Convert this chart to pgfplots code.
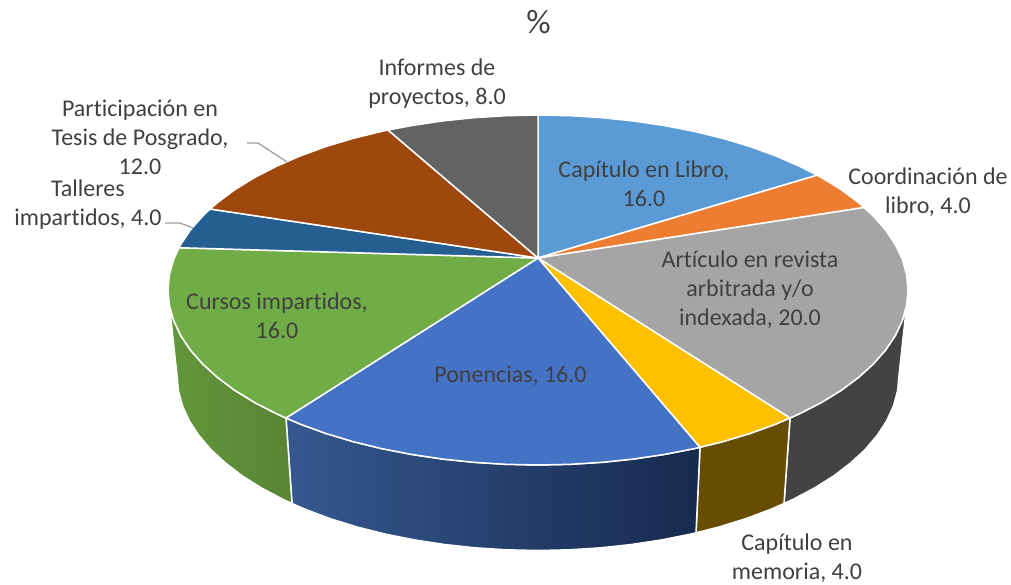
\documentclass[border=0pt]{standalone}
\usepackage{pgfplots}
\pgfplotsset{compat=1.18}
\usepackage{fontspec}
\setmainfont[Ligatures={NoCommon}]{Carlito}
\definecolor{capL}{HTML}{5B9BD5}
\definecolor{coord}{HTML}{ED7D31}
\definecolor{art}{HTML}{A5A5A5}
\definecolor{mem}{HTML}{FFC000}
\definecolor{pon}{HTML}{4472C4}
\definecolor{cur}{HTML}{70AD47}
\definecolor{tal}{HTML}{255E91}
\definecolor{par}{HTML}{9E480E}
\definecolor{inf}{HTML}{636363}
\definecolor{artS}{HTML}{434343}
\definecolor{memS}{HTML}{664D00}
\definecolor{ponL}{HTML}{35588F}
\definecolor{ponR}{HTML}{172A4E}
\definecolor{curL}{HTML}{62973C}
\definecolor{curR}{HTML}{598434}
\definecolor{txt}{HTML}{404040}
\definecolor{lead}{HTML}{A0A0A0}
\begin{document}
\begin{tikzpicture}
\begin{axis}[
  width=1011pt,height=584pt,scale only axis,
  xmin=0,xmax=1011,ymin=0,ymax=584,y dir=reverse,
  hide axis,clip=false,
  every axis plot/.append style={mark=none,line join=round},
]
% ---- sides
\addplot[draw=white,line width=1.5pt,fill=artS] coordinates {
(906.6,305.3)(902.4,320.4)(895.4,335.3)(885.7,349.9)(873.3,364)(858.4,377.5)(841.1,390.4)(821.4,402.5)(799.6,413.7)(790,418)
(784,503.5)(793.3,499.2)(814.5,488)(833.7,475.9)(850.6,463)(865.2,449.5)(877.2,435.4)(886.7,420.8)(893.5,405.9)(897.6,390.8)(899,375.5)} -- cycle;
\addplot[draw=white,line width=1.5pt,fill=memS] coordinates {
(790,418)(775.8,424.1)(750.2,433.4)(723,441.6)(700,447.3)
(696,532.8)(718.5,527.1)(745.1,518.9)(770,509.6)(784,503.5)} -- cycle;
\addplot[draw=white,line width=1.5pt,left color=ponL,right color=ponR] coordinates {
(700,447.3)(694.4,448.6)(664.5,454.4)(633.8,459)(602.2,462.3)(570.3,464.3)(538,465)(505.7,464.3)(473.8,462.3)(442.2,459)(411.5,454.4)(381.6,448.6)(353,441.6)(325.8,433.4)(300.2,424.1)(286,418)
(292,503.5)(306,509.6)(330.9,518.9)(357.5,527.1)(385.4,534.1)(414.5,539.9)(444.6,544.5)(475.3,547.8)(506.5,549.8)(538,550.5)(569.5,549.8)(600.7,547.8)(631.4,544.5)(661.5,539.9)(690.6,534.1)(696,532.8)} -- cycle;
\addplot[draw=white,line width=1.5pt,left color=curL,right color=curR] coordinates {
(286,418)(276.4,413.7)(254.6,402.5)(234.9,390.4)(217.6,377.5)(202.7,364)(190.3,349.9)(180.6,335.3)(173.6,320.4)(169.4,305.3)
(177,375.5)(178.4,390.8)(182.5,405.9)(189.3,420.8)(198.8,435.4)(210.8,449.5)(225.4,463)(242.3,475.9)(261.5,488)(282.7,499.2)(292,503.5)} -- cycle;
% ---- top wedges
\addplot[draw=white,line width=1.5pt,fill=capL] coordinates {
(538,258)(538,115)(570.3,115.7)(602.2,117.7)(633.8,121)(664.5,125.6)(694.4,131.4)(723,138.4)(750.2,146.6)(775.8,155.9)(799.6,166.3)(817.2,175.2)} -- cycle;
\addplot[draw=white,line width=1.5pt,fill=coord] coordinates {
(538,258)(817.2,175.2)(821.4,177.5)(841.1,189.6)(858.4,202.5)(864,207.5)} -- cycle;
\addplot[draw=white,line width=1.5pt,fill=art] coordinates {
(538,258)(864,207.5)(873.3,216)(885.7,230.1)(895.4,244.7)(902.4,259.6)(906.6,274.7)(908,290)(906.6,305.3)(902.4,320.4)(895.4,335.3)(885.7,349.9)(873.3,364)(858.4,377.5)(841.1,390.4)(821.4,402.5)(799.6,413.7)(790,418)} -- cycle;
\addplot[draw=white,line width=1.5pt,fill=mem] coordinates {
(538,258)(790,418)(775.8,424.1)(750.2,433.4)(723,441.6)(700,447.3)} -- cycle;
\addplot[draw=white,line width=1.5pt,fill=pon] coordinates {
(538,258)(700,447.3)(694.4,448.6)(664.5,454.4)(633.8,459)(602.2,462.3)(570.3,464.3)(538,465)(505.7,464.3)(473.8,462.3)(442.2,459)(411.5,454.4)(381.6,448.6)(353,441.6)(325.8,433.4)(300.2,424.1)(286,418)} -- cycle;
\addplot[draw=white,line width=1.5pt,fill=cur] coordinates {
(538,258)(286,418)(276.4,413.7)(254.6,402.5)(234.9,390.4)(217.6,377.5)(202.7,364)(190.3,349.9)(180.6,335.3)(173.6,320.4)(169.4,305.3)(168,290)(169.4,274.7)(173.6,259.6)(179,247.7)} -- cycle;
\addplot[draw=white,line width=1.5pt,fill=tal] coordinates {
(538,258)(179,247.7)(180.6,244.7)(190.3,230.1)(202.7,216)(210,209)} -- cycle;
\addplot[draw=white,line width=1.5pt,fill=par] coordinates {
(538,258)(210,209)(217.6,202.5)(234.9,189.6)(254.6,177.5)(276.4,166.3)(300.2,155.9)(325.8,146.6)(353,138.4)(381.6,131.4)(388,130)} -- cycle;
\addplot[draw=white,line width=1.5pt,fill=inf] coordinates {
(538,258)(388,130)(411.5,125.6)(442.2,121)(473.8,117.7)(505.7,115.7)(538,115)} -- cycle;
% ---- leader lines
\addplot[draw=lead,line width=1.3pt] coordinates {(165,223)(180,223)(193,228)};
\addplot[draw=lead,line width=1.3pt] coordinates {(247,143)(258,143)(287,162)};
% ---- labels
\tikzset{lb/.style={text=txt,align=center,anchor=center,inner sep=0pt,font=\fontsize{24}{29}\selectfont}}
\node[lb,font=\fontsize{34}{36}\selectfont] at (axis cs:538.5,22) {\%};
\node[lb] at (axis cs:437,84) {Informes de\\proyectos, 8.0};
\node[lb] at (axis cs:644,184) {Capítulo en Libro,\\16.0};
\node[lb] at (axis cs:928,192) {Coordinación de\\libro, 4.0};
\node[lb] at (axis cs:750,290) {Artículo en revista\\arbitrada y/o\\indexada, 20.0};
\node[lb] at (axis cs:510.5,376) {Ponencias, 16.0};
\node[lb] at (axis cs:277,316) {Cursos impartidos,\\16.0};
\node[lb] at (axis cs:140,137) {Participación en\\Tesis de Posgrado,\\12.0};
\node[lb] at (axis cs:88,205) {Talleres\\impartidos, 4.0};
\node[lb] at (axis cs:797,558) {Capítulo en\\memoria, 4.0};
\end{axis}
\pgfresetboundingbox
\path[use as bounding box] (0,0) rectangle (1011pt,584pt);
\end{tikzpicture}
\end{document}
